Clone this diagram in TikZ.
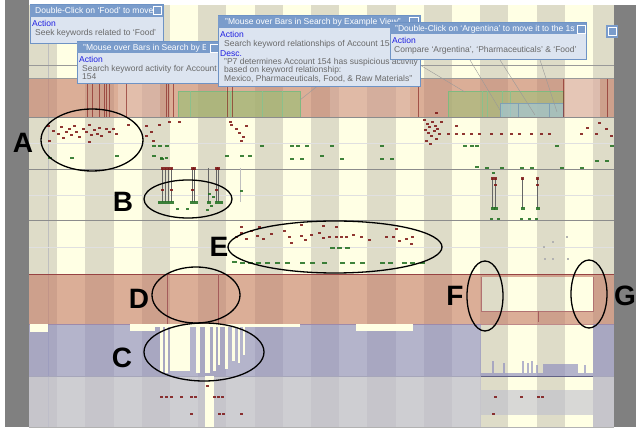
\documentclass[tikz,border=0pt]{standalone}
\usepackage{fontspec}
\setmainfont{Liberation Sans}
\usepackage{tikz}

\definecolor{cream}{RGB}{255,255,228}
\definecolor{beige}{RGB}{222,220,200}
\definecolor{frame}{RGB}{128,128,128}
\definecolor{tiphead}{RGB}{122,156,203}
\definecolor{tipfill}{RGB}{220,228,240}
\definecolor{tipedge}{RGB}{110,147,197}
\definecolor{tipgray}{RGB}{105,105,105}
\definecolor{tipblue}{RGB}{30,30,225}
\definecolor{redband}{RGB}{195,120,100}
\definecolor{blueband}{RGB}{140,140,190}
\definecolor{lowband}{RGB}{190,190,205}
\definecolor{darkred}{RGB}{125,20,20}
\definecolor{darkgreen}{RGB}{30,110,30}
\definecolor{greenbox}{RGB}{160,190,120}
\definecolor{bluebox}{RGB}{160,200,225}

\tikzset{
  tipbox/.style={draw=tipedge, fill=tipfill, line width=1pt},
  tiphd/.style={fill=tiphead},
  tiptitle/.style={anchor=north west, inner sep=0pt, text=white, font=\fontsize{8.5}{9}\selectfont},
  tipact/.style={anchor=north west, inner sep=0pt, text=tipblue, font=\fontsize{8.5}{9}\selectfont},
  tiptext/.style={anchor=north west, inner sep=0pt, text=tipgray, align=left, font=\fontsize{8.5}{8.5}\selectfont},
  closebox/.style={draw=white, fill=tiphead, line width=0.6pt},
  letter/.style={inner sep=0pt, font=\fontsize{28}{28}\bfseries\selectfont},
  ring/.style={draw=black, line width=1.3pt},
  reddot/.style={fill=darkred, opacity=0.85},
  greendot/.style={fill=darkgreen, opacity=0.85},
  bar/.style={draw=black!60, line width=0.6pt}
}

\begin{document}
\begin{tikzpicture}[x=1pt, y=-1pt]
	\useasboundingbox (0,0) rectangle (641,430);
	\fill[white] (0,0) rectangle (641,430);

	% background columns
	\fill[cream] (29,5) rectangle (614,427);
	\foreach \k in {0,...,10}
		\fill[beige] ({29+56.4*\k},5) rectangle ({min(29+56.4*\k+28.2,614)},427);
	\draw[black!25] (48,5) -- (48,427);

	% top band
	\fill[redband, opacity=0.6] (29,78) rectangle (614,117);
	\fill[white, opacity=0.2] (118,78) rectangle (160,117);
	\fill[white, opacity=0.15] (330,78) rectangle (410,117);
	\fill[white, opacity=0.3] (565,78) rectangle (600,117);
	\fill[greenbox, opacity=0.7] (178,91) rectangle (300,117);
	\fill[greenbox, opacity=0.6] (448,91) rectangle (563,117);
	\draw[green!45!black!50] (178,91) rectangle (300,117);
	\draw[green!45!black!50] (448,91) rectangle (563,117);
	\foreach \x in {190,230,262,282}
		\draw[green!45!black!45] (\x,91) -- (\x,117);
	\foreach \x in {482,487,502,510}
		\draw[green!45!black!45] (\x,91) -- (\x,117);
	\fill[bluebox, opacity=0.6] (500,103) rectangle (563,117);
	\draw[bluebox!80!black] (500,103) rectangle (563,117);
	\draw[bluebox!80!black] (518,103) -- (518,117) (549,103) -- (549,117);
	\foreach \x in {87,92,99,104,106,109,126,166,168,173,227,232,418,563,607}
		\draw[darkred, opacity=0.6, line width=0.8pt] (\x,78) -- (\x,117);
	\draw[black!40] (29,65) -- (614,65);
	\draw[black!40] (29,78) -- (614,78);
	\draw[black!45] (29,117) -- (614,117);

	% row lines
	\draw[black!45, line width=0.8pt] (29,169) -- (614,169);
	\draw[black!45, line width=0.8pt] (29,220) -- (614,220);
	\foreach \y in {143,195,247}
		\draw[white!88!black, line width=0.8pt] (29,\y) -- (614,\y);

	% band D / F / G
	\fill[redband, opacity=0.6] (29,274) rectangle (614,324);
	\fill[cream] (481,277) rectangle (593,311);
	\fill[beige] (481,277) rectangle (508.4,311);
	\fill[beige] (536.6,277) rectangle (564.8,311);
	\draw[darkred!80, line width=0.7pt] (29,274) -- (614,274);
	\draw[darkred!60, line width=0.6pt] (481,277) -- (481,311) -- (593,311) -- (593,277);
	\draw[darkred!70, line width=0.6pt] (167,274) -- (167,324) (218,274) -- (218,324) (538,311) -- (538,322);
	\draw[darkred!50, line width=0.6pt] (29,324) -- (614,324);

	% band C
	\fill[blueband, opacity=0.65] (29,324) rectangle (481,376);
	\fill[blueband, opacity=0.65] (593,324) rectangle (614,376);
	\fill[blueband, opacity=0.65] (481,373) rectangle (593,376);
	\fill[blueband, opacity=0.65] (543,364) rectangle (578,373);
	\foreach \x/\h in {492/12,503/10,522/12,527/10,531/12,536/8,584/8}
		\fill[blueband, opacity=0.65] (\x,373) rectangle ++(2,-\h);
	\fill[cream] (30,324) rectangle (48,332);
	\fill[cream] (130,324) rectangle (155,331);
	\fill[cream] (155,324) rectangle (300,327);
	\fill[cream] (356,324) rectangle (413,331);
	\foreach \x/\w/\h in {160/3/48,165/3/48,170/20/46,196/4/48,205/5/48,213/3/46,218/2/40,225/3/44,232/3/36,238/2/38,243/2/30}
		\fill[cream] (\x,325) rectangle ++(\w,\h);
	\draw[blueband!70!black, line width=0.8pt] (29,376) -- (614,376);

	% bottom band
	\fill[lowband, opacity=0.75] (29,376) rectangle (481,427);
	\fill[lowband, opacity=0.75] (593,376) rectangle (614,427);
	\fill[lowband, opacity=0.6] (481,390) rectangle (593,415);
	\fill[cream] (205,376) rectangle (214,427);
	\draw[black!30] (29,427) -- (614,427);

	% frame
	\fill[frame] (5,0) rectangle (29,427);
	\fill[frame] (614,5) rectangle (636,427);

	% connector lines from the boxes
	\draw[black!40, line width=0.4pt] (420,65) -- (465,92);
	\draw[black!40, line width=0.4pt] (470,60) -- (500,110);
	\draw[black!40, line width=0.4pt] (500,60) -- (535,115);
	\draw[black!40, line width=0.4pt] (540,60) -- (557,112);
	\draw[black!40, line width=0.4pt] (320,84) -- (300,100);

	% row A dots
	\foreach \x/\y in {47/125,52/130,57/133,60/126,62/137,65/131,68/128,70/134,73/125,75/131,78/136,82/128,85/131,88/124,90/134,93/129,96/133,98/127,100/135,105/128,108/131,112/128,115/133,48/140,88/141,127/124,145/125,150/131,158/124,168/121,178/121,145/135,152/140,230/124,235/128,238/132,242/136,245/125,240/140,229/121}
		\fill[reddot] (\x,\y) rectangle ++(3,2);
	\foreach \x/\y in {423/119,426/123,428/126,431/121,434/125,424/129,427/132,430/135,433/130,436/128,438/133,425/140,429/143,435/138,440/121,447/133,455/133,462/133,470/133,478/133,490/133,500/133,510/133,518/133,530/133,540/133,548/133,580/133,586/127,595/133,598/122,605/128,610/135,455/125,435/112}
		\fill[reddot] (\x,\y) rectangle ++(3,2);
	\foreach \x/\y in {152/145,158/145,165/145,260/145,290/145,296/145,305/145,330/145,380/145,463/145,470/145,475/145,555/145,610/145,48/157,70/157,115/155,152/155,160/158,225/155,240/155,248/155,290/158,300/158,320/155,340/158,380/158,390/158,475/166,485/167,500/167,520/167,530/167,560/167,580/167,595/160,605/160}
		\fill[greendot] (\x,\y) rectangle ++(4,2);

	% row B bars
	\foreach \x in {162,165,168,171,192,194,208,216,218,492,495,522,537}
		\draw[bar] (\x,{\x>300?178:168}) -- (\x,{\x>300?208:202});
	\draw[black!25] (240,168) -- (240,202);
	\foreach \x in {161,164,167,170,191,193,215,217,491,494,521,536}
		\fill[reddot] (\x,{\x>300?177:167}) rectangle ++(3,3);
	\foreach \x in {161,170,191,215,494,536}
		\fill[reddot] (\x,{\x>300?184:189}) rectangle ++(3,2);
	\foreach \x in {158,162,166,170,190,194,207,215,219,491,494,521,536}
		\fill[greendot] (\x,{\x>300?207:201}) rectangle ++(4,3);
	\foreach \x/\y in {208/193,212/196,210/205,206/209,176/208,186/208,492/172,490/218,497/218,520/218,528/218,535/218,160/157,165/157,240/190}
		\fill[greendot] (\x,\y) rectangle ++(3,2);

	% row E dots
	\foreach \x/\y in {235/236,240/232,245/238,250/230,256/235,262/238,270/233,283/230,288/236,300/235,304/239,310/234,318/232,322/237,328/236,335/236,340/236,345/236,352/234,360/236,368/239,385/236,392/236,395/228,398/240,405/238,411/236,240/226,258/226,300/224,322/225,335/226,290/242,410/243}
		\fill[reddot] (\x,\y) rectangle ++(3,2);
	\foreach \x/\y in {330/247,337/247,345/247,232/261,240/262,248/262,256/262,265/262,275/262,285/262,300/262,310/262,322/262,340/262,350/262,360/262,380/262,388/262,402/262,410/262,420/262}
		\fill[greendot] (\x,\y) rectangle ++(5,2);
	\foreach \x/\y in {552/241,566/236,543/246,544/258,552/258,567/258}
		\fill[black!30] (\x,\y) rectangle ++(2,2);

	% bottom dots
	\foreach \x/\y in {160/396,165/396,170/396,180/396,190/396,194/396,213/396,217/396,221/396,190/413,218/413,222/413,240/413,206/385,494/396,520/396,537/396,541/396,492/413}
		\fill[reddot] (\x,\y) rectangle ++(3,2);

	% box 1
	\draw[tipbox] (30,5) rectangle (163,44);
	\fill[tiphd] (30,5) rectangle (163,17);
	\node[tiptitle] (head1) at (35,7) {Double-Click on `Food' to move};
	\node[tipact] (act1) at (32,20) {Action};
	\node[tiptext] (txt1) at (35,29) {Seek keywords related to `Food'};
	\draw[closebox] (153,6.5) rectangle (161,14.5);

	% box 2
	\draw[tipbox] (77,42) rectangle (219,84);
	\fill[tiphd] (77,42) rectangle (219,53);
	\node[tiptitle] (head2) at (83,44) {"Mouse over Bars in Search by Exa};
	\fill[tiphd] (206,43) rectangle (219,53);
	\node[tipact] (act2) at (79,56) {Action};
	\node[tiptext] (txt2) at (82,65) {Search keyword activity for Account\\154};
	\draw[closebox] (210,44) rectangle (218,52);

	% box 3
	\draw[tipbox] (218,16) rectangle (420,87);
	\fill[tiphd] (218,16) rectangle (420,28);
	\node[tiptitle] (head3) at (225,18) {"Mouse over Bars in Search by Example View"};
	\fill[tiphd] (406,17) rectangle (420,28);
	\draw[closebox] (409,17.5) rectangle (418,25.5);
	\node[tipact] (act3) at (220,31) {Action};
	\node[tiptext] (txt3) at (224,40) {Search keyword relationships of Account 154};
	\node[tipact] (desc3) at (220,50) {Desc.};
	\node[tiptext] (note3) at (224,58) {"P7 determines Account 154 has suspicious activity\\based on keyword relationship:\\Mexico, Pharmaceuticals, Food, \& Raw Materials"};

	% box 4
	\draw[tipbox] (390,23) rectangle (586,60);
	\fill[tiphd] (390,23) rectangle (586,34);
	\node[tiptitle] (head4) at (395,25) {"Double-Click on `Argentina' to move it to the 1st};
	\fill[tiphd] (575,24) rectangle (586,34);
	\draw[closebox] (577,25) rectangle (585,33);
	\node[tipact] (act4) at (392,37) {Action};
	\node[tiptext] (txt4) at (394,46) {Compare `Argentina', `Pharmaceuticals' \& `Food'};
	\fill[tiphd] (606,25) rectangle (618,38);
	\draw[closebox] (608,27) rectangle (616,35);

	% marks
	\draw[ring] (92,140) ellipse (51 and 31);
	\draw[ring] (188,199) ellipse (44 and 19);
	\draw[ring] (335,247) ellipse (107 and 26);
	\draw[ring] (196,295) ellipse (44 and 28);
	\draw[ring] (204,352) ellipse (60 and 29);
	\draw[ring] (485,296) ellipse (18 and 35);
	\draw[ring] (589,294) ellipse (18 and 34);

	\node[letter] (labA) at (23,143) {A};
	\node[letter] (labB) at (123,202) {B};
	\node[letter] (labE) at (219,247) {E};
	\node[letter] (labD) at (139,299) {D};
	\node[letter] (labC) at (122,358) {C};
	\node[letter] (labF) at (455,296) {F};
	\node[letter] (labG) at (625,296) {G};

\end{tikzpicture}
\end{document}
